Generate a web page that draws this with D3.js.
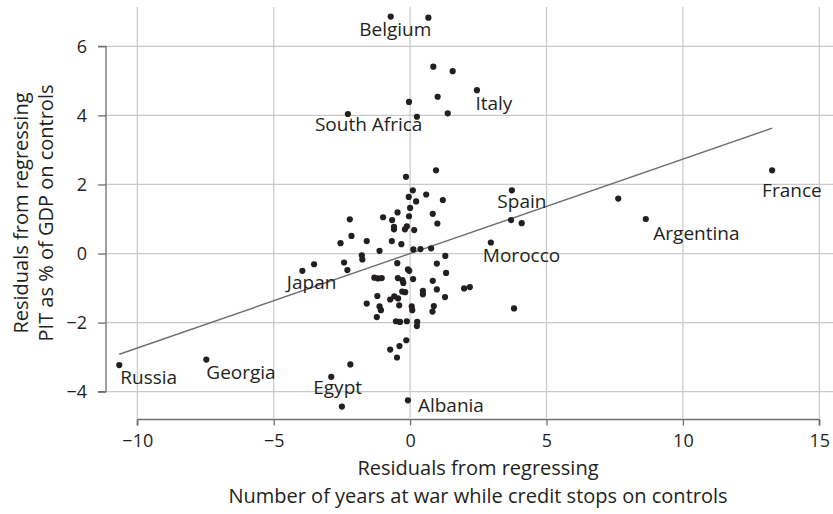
<!DOCTYPE html>
<html>
<head>
<meta charset="utf-8">
<script src="https://cdn.jsdelivr.net/npm/d3@7"></script>
<style>
  html, body { margin: 0; padding: 0; background: #fff; }
  svg text { font-family: "Open Sans", "Noto Sans", sans-serif; fill: #231f20; }
</style>
</head>
<body>
<svg id="chart" width="833" height="514"></svg>
<script>
// ---------- DATA ----------
const xTicks = [-10, -5, 0, 5, 10, 15];
const yTicks = [-4, -2, 0, 2, 4, 6];

const xTitle = ["Residuals from regressing", "Number of years at war while credit stops on controls"];
const yTitle = ["Residuals from regressing", "PIT as % of GDP on controls"];

// Labelled countries
const labelNames = ["Belgium", "South Africa", "Italy", "Spain", "Morocco", "Argentina", "France", "Japan", "Russia", "Georgia", "Egypt", "Albania"];
const labelX = [-0.71, -2.28, 2.45, 3.73, 2.96, 8.64, 13.27, -3.95, -10.66, -7.47, -2.89, -0.08];
const labelY = [6.86, 4.04, 4.73, 1.83, 0.32, 1.00, 2.41, -0.50, -3.23, -3.07, -3.57, -4.25];

// Unlabelled countries
const otherX = [0.67, 0.85, 1.56, 1.01, -0.04, 1.38, 0.25, -0.15, 0.95, 0.10, -0.05, 0.59, 0.22, 1.20, 0.00, -0.46, 0.83,
  -2.21, -0.99, -0.66, -0.04, 1.00, -0.59, -0.59, -0.12, -0.19, 0.15, -2.15, -1.59, -0.67, -0.32, -2.55, -1.12, 0.12,
  0.38, 0.77, -1.77, -1.75, 1.29, -3.52, -2.42, -2.30, -0.47, -0.08, -0.03, 0.98, 1.32, -1.31, -1.18, -1.04, -0.45,
  -0.28, -0.25, 0.11, 0.83, -1.20, -0.29, -0.18, 0.47, 0.47, 0.98, 1.28, 1.98, 2.19, -0.73, -0.58, -0.44, -1.59, -1.12,
  -1.07, -0.40, 0.06, 0.08, 0.87, 0.82, 3.81, -1.22, -0.52, -0.37, -0.12, 0.26, 0.25, -0.14, -0.39, -0.73, -0.48,
  -2.19, -2.50, 7.63, 3.70, 4.09];
const otherY = [6.83, 5.41, 5.28, 4.54, 4.39, 4.06, 3.96, 2.22, 2.41, 1.83, 1.64, 1.71, 1.51, 1.55, 1.32, 1.19, 1.15,
  0.99, 1.05, 0.97, 1.08, 0.87, 0.77, 0.70, 0.79, 0.70, 0.68, 0.51, 0.36, 0.36, 0.27, 0.30, 0.08, 0.12,
  0.13, 0.15, -0.05, -0.17, -0.07, -0.31, -0.26, -0.48, -0.28, -0.46, -0.50, -0.29, -0.56, -0.70, -0.72, -0.71, -0.71,
  -0.77, -0.85, -0.74, -0.79, -1.23, -1.10, -1.12, -1.08, -1.18, -1.04, -1.26, -1.01, -0.97, -1.33, -1.24, -1.30, -1.45, -1.53,
  -1.64, -1.50, -1.53, -1.64, -1.52, -1.68, -1.59, -1.84, -1.96, -1.98, -1.96, -1.98, -2.10, -2.51, -2.68, -2.78, -3.01,
  -3.21, -4.43, 1.59, 0.97, 0.88];

// Fitted line
const fitSlope = 0.2735;
const fitIntercept = 0.0;
const fitRange = [-10.66, 13.27];

// ---------- LAYOUT / STYLE ----------
const labelOffsets = {
  "Belgium": [-31.5, 19.5], "South Africa": [-33, 17.5], "Italy": [-1.5, 20], "Spain": [-14.5, 18],
  "Morocco": [-8, 19.5], "Argentina": [7.5, 20.5], "France": [-10, 26.5], "Japan": [-15.5, 18.5],
  "Russia": [1, 19], "Georgia": [0, 19.5], "Egypt": [-18, 17], "Albania": [10, 12]
};

const svg = d3.select("#chart");
const plotLeft = 106, plotRight = 833, plotTop = 7, plotBottom = 418;

const x = d3.scaleLinear().domain([-10, 15]).range([137.3, 819.3]);
const y = d3.scaleLinear().domain([-4, 6]).range([391.7, 46.3]);

const gridColor = "#c9c9c9";
const axisColor = "#6d6e71";

// gridlines
svg.append("g").selectAll("line.vg").data(xTicks).join("line")
  .attr("x1", d => x(d)).attr("x2", d => x(d))
  .attr("y1", plotTop).attr("y2", plotBottom)
  .attr("stroke", gridColor).attr("stroke-width", 1.2);
svg.append("g").selectAll("line.hg").data(yTicks).join("line")
  .attr("x1", plotLeft).attr("x2", plotRight)
  .attr("y1", d => y(d)).attr("y2", d => y(d))
  .attr("stroke", gridColor).attr("stroke-width", 1.2);

// x axis
const xAxis = svg.append("g").attr("transform", `translate(0,${plotBottom + 1.5})`)
  .call(d3.axisBottom(x).tickValues(xTicks).tickSize(6).tickPadding(9)
    .tickFormat(d => d3.format("")(d).replace("-", "\u2212")));
xAxis.select(".domain").attr("stroke", axisColor).attr("stroke-width", 1.3)
  .attr("d", `M${x(-10)},6V0H${x(15)}V6`);
xAxis.selectAll(".tick line").attr("stroke", axisColor).attr("stroke-width", 1.3);
xAxis.selectAll(".tick text").style("font-size", "18px").attr("fill", "#231f20");

// y axis
const yAxis = svg.append("g").attr("transform", `translate(${plotLeft},0)`)
  .call(d3.axisLeft(y).tickValues(yTicks).tickSize(8).tickPadding(11)
    .tickFormat(d => d3.format("")(d).replace("-", "\u2212")));
yAxis.select(".domain").attr("stroke", axisColor).attr("stroke-width", 1.3)
  .attr("d", `M-8,${y(6)}H0V${y(-4)}H-8`);
yAxis.selectAll(".tick line").attr("stroke", axisColor).attr("stroke-width", 1.3);
yAxis.selectAll(".tick text").style("font-size", "18px").attr("fill", "#231f20");

// fitted line
svg.append("line")
  .attr("x1", x(fitRange[0])).attr("y1", y(fitIntercept + fitSlope * fitRange[0]))
  .attr("x2", x(fitRange[1])).attr("y2", y(fitIntercept + fitSlope * fitRange[1]))
  .attr("stroke", "#6d6e71").attr("stroke-width", 1.4);

// points
const others = otherX.map((v, i) => ({ x: v, y: otherY[i] }));
const labelled = labelNames.map((n, i) => ({ name: n, x: labelX[i], y: labelY[i] }));

svg.append("g").selectAll("circle").data(others.concat(labelled)).join("circle")
  .attr("cx", d => x(d.x)).attr("cy", d => y(d.y)).attr("r", 3.1)
  .attr("fill", "#231f20");

// labels
svg.append("g").selectAll("text").data(labelled).join("text")
  .attr("x", d => x(d.x) + labelOffsets[d.name][0])
  .attr("y", d => y(d.y) + labelOffsets[d.name][1])
  .style("font-size", "19px")
  .text(d => d.name);

// axis titles
svg.append("text").attr("x", 478).attr("y", 475).attr("text-anchor", "middle")
  .style("font-size", "20px").text(xTitle[0]);
svg.append("text").attr("x", 478).attr("y", 503).attr("text-anchor", "middle")
  .style("font-size", "20px").text(xTitle[1]);
svg.append("text").attr("transform", "translate(28,213) rotate(-90)").attr("text-anchor", "middle")
  .style("font-size", "20px").text(yTitle[0]);
svg.append("text").attr("transform", "translate(53,213) rotate(-90)").attr("text-anchor", "middle")
  .style("font-size", "20px").text(yTitle[1]);
</script>
</body>
</html>
